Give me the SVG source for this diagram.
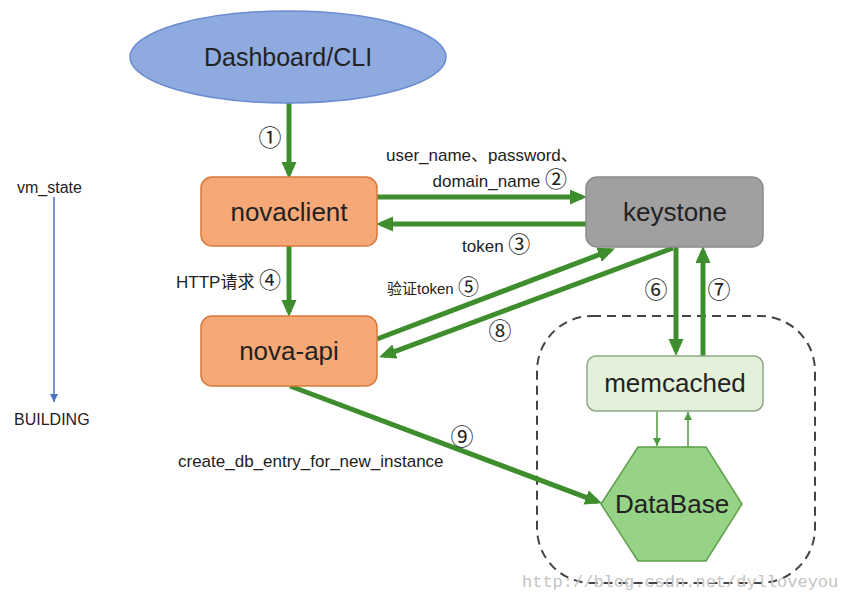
<svg xmlns="http://www.w3.org/2000/svg" width="845" height="592" viewBox="0 0 845 592">
<defs>
<style>
text{font-family:"Liberation Sans","Noto Sans CJK SC",sans-serif;fill:#222}
.big{font-size:26px;text-anchor:middle}
.lbl{font-size:17px}
.c{font-family:"Noto Sans CJK SC",sans-serif;font-size:22px}
.num{font-family:"Noto Sans CJK SC",sans-serif;font-size:23px;text-anchor:middle}
.g{stroke:#3e8e2e;stroke-width:5;fill:none;marker-end:url(#ah)}
.t{stroke:#4f9a3e;stroke-width:1.5;fill:none;marker-end:url(#as)}
.box{stroke-width:1.5}
</style>
<marker id="ah" markerUnits="userSpaceOnUse" markerWidth="18" markerHeight="16" refX="12" refY="7.5" orient="auto"><path d="M0,0 L17,7.5 L0,15 z" fill="#3e8e2e"/></marker>
<marker id="as" markerUnits="userSpaceOnUse" markerWidth="9" markerHeight="9" refX="8" refY="4" orient="auto"><path d="M0,0 L8,4 L0,8 z" fill="#4f9a3e"/></marker>
<marker id="ab" markerUnits="userSpaceOnUse" markerWidth="9" markerHeight="9" refX="8" refY="4" orient="auto"><path d="M0,0 L8,4 L0,8 z" fill="#4a72c4"/></marker>
</defs>
<rect width="845" height="592" fill="#fff"/>

<g id="group-db">
<rect x="537" y="316" width="278" height="267" rx="55" fill="none" stroke="#444" stroke-width="2" stroke-dasharray="9,6"/>
</g>

<g id="connectors">
<path class="g" d="M289,103 L289,174"/>
<path class="g" d="M377,197 L582,197"/>
<path class="g" d="M586,224 L381,224"/>
<path class="g" d="M289,246 L289,312"/>
<path class="g" d="M377,339 L610.3,250.4"/>
<path class="g" d="M673,248 L383.7,355.6"/>
<path class="g" d="M676,247 L676,351"/>
<path class="g" d="M703,356 L703,251"/>
<path class="g" d="M290,386 L597.3,501.6"/>
<path class="t" d="M657,411 L657,446"/>
<path class="t" d="M688,447 L688,412"/>
<path d="M54,197 L54,402" stroke="#4a72c4" stroke-width="1.5" fill="none" marker-end="url(#ab)"/>
</g>

<g id="dashboard">
<ellipse cx="288" cy="57" rx="158" ry="46" fill="#8eaadf" stroke="#6a8bd0" stroke-width="1.5"/>
<text class="big" x="288" y="66" style="font-size:25px">Dashboard/CLI</text>
</g>
<g id="novaclient">
<rect class="box" x="201" y="177" width="176" height="69" rx="11" fill="#f7a877" stroke="#d9793a"/>
<text class="big" x="289" y="221">novaclient</text>
</g>
<g id="nova-api">
<rect class="box" x="201" y="316" width="176" height="70" rx="11" fill="#f7a877" stroke="#d9793a"/>
<text class="big" x="289" y="360">nova-api</text>
</g>
<g id="keystone">
<rect class="box" x="586" y="177" width="177" height="70" rx="11" fill="#a0a0a0" stroke="#8a8a8a"/>
<text class="big" x="675" y="221">keystone</text>
</g>
<g id="memcached">
<rect class="box" x="587" y="356" width="176" height="55" rx="9" fill="#e3f1da" stroke="#8fa887"/>
<text class="big" x="675" y="392">memcached</text>
</g>
<g id="database">
<polygon points="638,447 706,447 742,504 706,561 638,561 601,504" fill="#96d386" stroke="#5ea04a" stroke-width="1.5"/>
<text class="big" x="672" y="513">DataBase</text>
</g>

<g id="labels">
<text class="num" x="270" y="146">①</text>
<text class="lbl" x="386" y="161">user_name、password、</text>
<text class="lbl" x="567" y="187" text-anchor="end">domain_name <tspan class="c">②</tspan></text>
<text class="lbl" x="462" y="252">token <tspan class="c">③</tspan></text>
<text class="lbl" x="176" y="288">HTTP请求 <tspan class="c">④</tspan></text>
<text class="lbl" x="387" y="294" style="font-size:15px">验证token <tspan class="c" style="font-size:21px">⑤</tspan></text>
<text class="num" x="500" y="339">⑧</text>
<text class="num" x="656" y="298">⑥</text>
<text class="num" x="719" y="298">⑦</text>
<text class="num" x="462" y="445">⑨</text>
<text class="lbl" x="178" y="467">create_db_entry_for_new_instance</text>
<text class="lbl" x="17" y="193" style="font-size:16px">vm_state</text>
<text class="lbl" x="14" y="425" style="font-size:16px">BUILDING</text>
<text x="522" y="587" style="font-family:'Liberation Mono',monospace;font-size:17px;fill:#c4c4c4">http://blog.csdn.net/dylloveyou</text>
</g>
</svg>
